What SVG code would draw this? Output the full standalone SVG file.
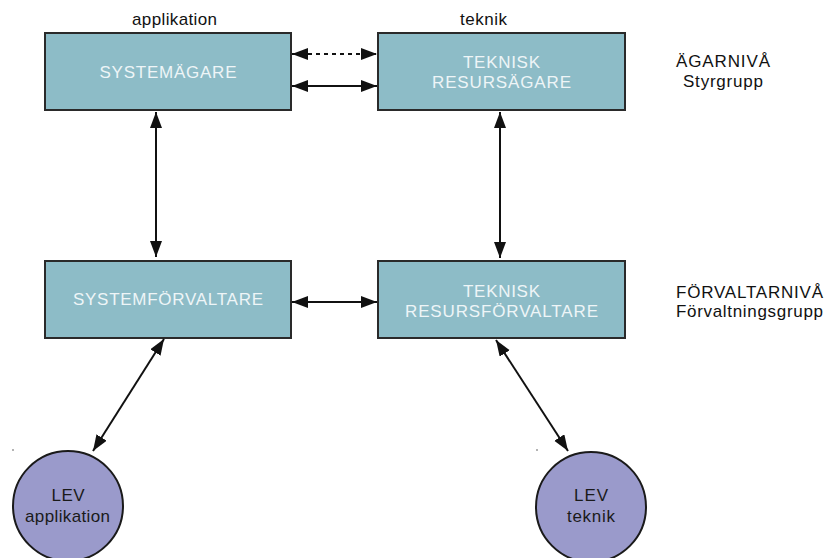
<svg xmlns="http://www.w3.org/2000/svg" width="827" height="558" viewBox="0 0 827 558">
<style>
text{font-family:"Liberation Sans",Arial,sans-serif;font-size:17px;text-anchor:middle}
.box{fill:#8dbcc7;stroke:#2a2a2a;stroke-width:2}
.btxt{fill:#eef5f7}
.lbl{fill:#111}
.circ{fill:#9a9acb;stroke:#1a1a1a;stroke-width:2}
.ctxt{fill:#1a1a1a}
.con{stroke:#111;stroke-width:2;fill:none;marker-start:url(#ah);marker-end:url(#ah)}
.dash{stroke-dasharray:4 4}
</style>
<defs>
<marker id="ah" markerUnits="userSpaceOnUse" markerWidth="17" markerHeight="13" refX="16" refY="6" orient="auto-start-reverse" viewBox="0 0 17 13">
<path d="M0,0 L16,6 L0,12 z" fill="#111"/>
</marker>
</defs>
<g id="header-labels">
<text class="lbl" x="174.5" y="25" textLength="85" lengthAdjust="spacing">applikation</text>
<text class="lbl" x="483.5" y="25" textLength="47" lengthAdjust="spacing">teknik</text>
</g>
<g id="level-labels">
<text class="lbl" x="723" y="67" textLength="94" lengthAdjust="spacing">ÄGARNIVÅ</text>
<text class="lbl" x="723" y="87" textLength="80" lengthAdjust="spacing">Styrgrupp</text>
<text class="lbl" x="749.5" y="298" textLength="147" lengthAdjust="spacing">FÖRVALTARNIVÅ</text>
<text class="lbl" x="749.5" y="317" textLength="147" lengthAdjust="spacing">Förvaltningsgrupp</text>
</g>
<g id="systemagare">
<rect class="box" x="45" y="33" width="246" height="77"/>
<text class="btxt" x="168" y="78" textLength="137" lengthAdjust="spacing">SYSTEMÄGARE</text>
</g>
<g id="teknisk-resursagare">
<rect class="box" x="378" y="33" width="247" height="77"/>
<text class="btxt" x="501.5" y="68" textLength="77" lengthAdjust="spacing">TEKNISK</text>
<text class="btxt" x="501.5" y="88" textLength="139" lengthAdjust="spacing">RESURSÄGARE</text>
</g>
<g id="systemforvaltare">
<rect class="box" x="45" y="261" width="246" height="77"/>
<text class="btxt" x="168" y="305" textLength="190" lengthAdjust="spacing">SYSTEMFÖRVALTARE</text>
</g>
<g id="teknisk-resursforvaltare">
<rect class="box" x="378" y="261" width="247" height="77"/>
<text class="btxt" x="501.5" y="297" textLength="77" lengthAdjust="spacing">TEKNISK</text>
<text class="btxt" x="501.5" y="317" textLength="193" lengthAdjust="spacing">RESURSFÖRVALTARE</text>
</g>
<g id="lev-applikation">
<circle class="circ" cx="68" cy="506" r="55"/>
<text class="ctxt" x="68" y="501" textLength="33" lengthAdjust="spacing">LEV</text>
<text class="ctxt" x="67.5" y="522" textLength="85" lengthAdjust="spacing">applikation</text>
</g>
<g id="lev-teknik">
<circle class="circ" cx="591" cy="507" r="55"/>
<text class="ctxt" x="591" y="501" textLength="34" lengthAdjust="spacing">LEV</text>
<text class="ctxt" x="591" y="522" textLength="48" lengthAdjust="spacing">teknik</text>
</g>
<g id="connectors">
<line class="con dash" x1="292" y1="54" x2="377" y2="54"/>
<line class="con" x1="292" y1="86" x2="377" y2="86"/>
<line class="con" x1="156" y1="112" x2="156" y2="257"/>
<line class="con" x1="500" y1="112" x2="500" y2="258"/>
<line class="con" x1="292" y1="302" x2="377" y2="302"/>
<line class="con" x1="164" y1="339" x2="93" y2="451"/>
<line class="con" x1="496" y1="340" x2="568" y2="451"/>
</g>
<g id="dots" fill="#555">
<circle cx="13" cy="450" r="0.8"/>
<circle cx="537" cy="450" r="0.8"/>
</g>
</svg>
